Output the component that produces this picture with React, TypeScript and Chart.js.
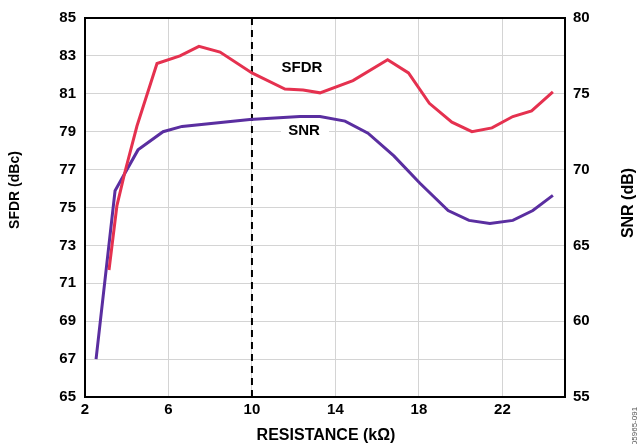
import React, { useEffect, useRef } from "react";
import { Chart, registerables } from "chart.js";

Chart.register(...registerables);

const sfdrX = [3.15, 3.53, 3.92, 4.49, 5.45, 6.55, 7.46, 8.47, 10.0, 11.58, 12.45, 13.26, 14.84, 16.5, 17.5, 18.5, 19.58, 20.54, 21.5, 22.5, 23.4, 24.42];
const sfdrY = [71.7, 75.1, 76.9, 79.3, 82.6, 83.0, 83.5, 83.2, 82.1, 81.25, 81.2, 81.05, 81.7, 82.8, 82.1, 80.5, 79.5, 79.0, 79.2, 79.8, 80.1, 81.1];
const snrX = [2.53, 3.44, 4.54, 5.74, 6.65, 9.9, 12.3, 13.26, 14.46, 15.56, 16.8, 18.05, 19.4, 20.4, 21.4, 22.5, 23.46, 24.42];
const snrY = [57.5, 68.6, 71.3, 72.5, 72.85, 73.3, 73.5, 73.5, 73.2, 72.4, 70.9, 69.1, 67.3, 66.65, 66.45, 66.65, 67.3, 68.3];
const xTicks = [2, 6, 10, 14, 18, 22];
const leftTicks = [65, 67, 69, 71, 73, 75, 77, 79, 81, 83, 85];
const rightTicks = [55, 60, 65, 70, 75, 80];
const markerX = 10;
const xTitle = "RESISTANCE (kΩ)";
const leftTitle = "SFDR (dBc)";
const rightTitle = "SNR (dB)";
const sfdrLabel = "SFDR";
const snrLabel = "SNR";
const figId = "05965-091";

const FONT = "'Liberation Sans', Arial, sans-serif";

export default function App() {
  const ref = useRef<HTMLCanvasElement | null>(null);
  useEffect(() => {
    if (!ref.current) return;
    const overlay = {
      id: "overlay",
      beforeDatasetsDraw(chart: any) {
        const { ctx, chartArea, scales } = chart;
        const x = scales.x.getPixelForValue(markerX);
        ctx.save();
        ctx.strokeStyle = "#000";
        ctx.lineWidth = 2;
        ctx.setLineDash([7, 5]);
        ctx.beginPath();
        ctx.moveTo(x, chartArea.top);
        ctx.lineTo(x, chartArea.bottom);
        ctx.stroke();
        ctx.restore();
        ctx.save();
        ctx.fillStyle = "#fff";
        ctx.fillRect(281, 121, 48, 18);
        ctx.restore();
      },
      afterDraw(chart: any) {
        const { ctx, chartArea } = chart;
        ctx.save();
        ctx.strokeStyle = "#000";
        ctx.lineWidth = 2;
        ctx.strokeRect(chartArea.left, chartArea.top, chartArea.right - chartArea.left, chartArea.bottom - chartArea.top);
        ctx.fillStyle = "#000";
        ctx.font = "bold 15px " + FONT;
        ctx.textAlign = "center";
        ctx.textBaseline = "middle";
        ctx.fillText(sfdrLabel, 302, 68);
        ctx.fillText(snrLabel, 304, 131);
        ctx.font = "bold 16px " + FONT;
        ctx.fillText(xTitle, 326, 436);
        ctx.save();
        ctx.translate(629, 203);
        ctx.rotate(-Math.PI / 2);
        ctx.fillText(rightTitle, 0, 0);
        ctx.restore();
        ctx.font = "bold 14px " + FONT;
        ctx.save();
        ctx.translate(15, 190);
        ctx.rotate(-Math.PI / 2);
        ctx.fillText(leftTitle, 0, 0);
        ctx.restore();
        ctx.save();
        ctx.fillStyle = "#555";
        ctx.font = "8px " + FONT;
        ctx.translate(635, 426);
        ctx.rotate(-Math.PI / 2);
        ctx.fillText(figId, 0, 0);
        ctx.restore();
        ctx.restore();
      },
    };
    const tickFont = { family: FONT, size: 15, weight: "bold" as const };
    const chart = new Chart(ref.current, {
      type: "line",
      data: {
        datasets: [
          {
            label: "SFDR",
            data: sfdrX.map((x, i) => ({ x, y: sfdrY[i] })),
            borderColor: "#e5314f",
            borderWidth: 3,
            pointRadius: 0,
            yAxisID: "y",
          },
          {
            label: "SNR",
            data: snrX.map((x, i) => ({ x, y: snrY[i] })),
            borderColor: "#5a2ea0",
            borderWidth: 3,
            pointRadius: 0,
            yAxisID: "y2",
          },
        ],
      },
      options: {
        animation: false,
        responsive: false,
        devicePixelRatio: 1,
        layout: { padding: { top: 13, left: 0, right: 0, bottom: 0 } },
        plugins: { legend: { display: false }, tooltip: { enabled: false } },
        scales: {
          x: {
            type: "linear",
            min: 2,
            max: 25,
            afterBuildTicks: (s: any) => {
              s.ticks = xTicks.map((v) => ({ value: v }));
            },
            afterFit: (s: any) => {
              s.height = 47;
            },
            grid: { color: "#d4d4d4", lineWidth: 1, drawTicks: false },
            border: { color: "#000", width: 2 },
            ticks: { color: "#000", font: tickFont, padding: 4, maxRotation: 0 },
          },
          y: {
            type: "linear",
            position: "left",
            min: 65,
            max: 85,
            afterBuildTicks: (s: any) => {
              s.ticks = leftTicks.map((v) => ({ value: v }));
            },
            afterFit: (s: any) => {
              s.width = 85;
            },
            grid: { color: "#d4d4d4", lineWidth: 1, drawTicks: false },
            border: { color: "#000", width: 2 },
            ticks: { color: "#000", font: tickFont, padding: 9 },
          },
          y2: {
            type: "linear",
            position: "right",
            min: 55,
            max: 80,
            afterBuildTicks: (s: any) => {
              s.ticks = rightTicks.map((v) => ({ value: v }));
            },
            afterFit: (s: any) => {
              s.width = 75;
            },
            grid: { display: false, drawTicks: false },
            border: { color: "#000", width: 2 },
            ticks: { color: "#000", font: tickFont, padding: 8 },
          },
        },
      },
      plugins: [overlay],
    } as any);
    return () => chart.destroy();
  }, []);
  return (
    <div style={{ position: "absolute", left: 0, top: 0, width: 640, height: 444, background: "#fff" }}>
      <canvas ref={ref} width={640} height={444} style={{ width: 640, height: 444 }} />
    </div>
  );
}
